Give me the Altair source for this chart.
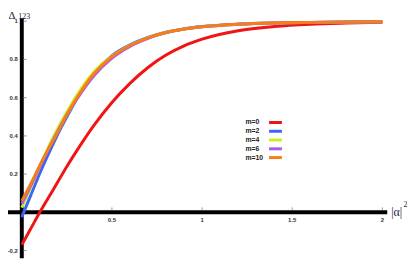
import altair as alt
import pandas as pd

# ---- data ----
x_vals = [0, 0.05, 0.1, 0.15, 0.2, 0.25, 0.3, 0.4, 0.5, 0.6, 0.7, 0.8, 0.9, 1.0, 1.2, 1.4, 1.6, 1.8, 2.0]
m0 = [-0.17, -0.085, 0.0, 0.08, 0.16, 0.24, 0.315, 0.455, 0.575, 0.675, 0.758, 0.823, 0.871, 0.906, 0.95, 0.972, 0.984, 0.99, 0.994]
m2 = [-0.025, 0.09, 0.205, 0.31, 0.41, 0.50, 0.585, 0.727, 0.82, 0.876, 0.915, 0.942, 0.96, 0.972, 0.985, 0.991, 0.994, 0.996, 0.997]
m4 = [0.025, 0.13, 0.24, 0.345, 0.44, 0.525, 0.605, 0.735, 0.817, 0.873, 0.913, 0.941, 0.959, 0.971, 0.984, 0.991, 0.994, 0.996, 0.997]
m6 = [0.045, 0.14, 0.24, 0.335, 0.425, 0.51, 0.585, 0.715, 0.807, 0.868, 0.91, 0.94, 0.959, 0.971, 0.984, 0.991, 0.994, 0.996, 0.997]
m10 = [0.06, 0.15, 0.245, 0.335, 0.42, 0.51, 0.59, 0.725, 0.815, 0.873, 0.913, 0.941, 0.959, 0.971, 0.984, 0.991, 0.994, 0.996, 0.997]

series_names = ["m=0", "m=2", "m=4", "m=6", "m=10"]
series_values = [m0, m2, m4, m6, m10]
series_colors = ["#f01414", "#3a66f5", "#c8f01e", "#a55cf0", "#f57d1a"]

x_ticks = [0.5, 1, 1.5, 2]
x_tick_labels = ["0.5", "1", "1.5", "2"]
y_ticks = [-0.2, 0.2, 0.4, 0.6, 0.8, 1]
y_tick_labels = ["-0.2", "0.2", "0.4", "0.6", "0.8", "1"]

# ---- scales ----
W, H = 405, 255
X_DOM = [-14 / 183, (W - 14) / 183]
Y_DOM = [-(H - 205.5) / 194, 205.5 / 194]
xs = alt.Scale(domain=X_DOM, nice=False, zero=False)
ys = alt.Scale(domain=Y_DOM, nice=False, zero=False)
cs = alt.Scale(domain=series_names, range=series_colors)

rows = []
for name, vals in zip(series_names, series_values):
    for xv, yv in zip(x_vals, vals):
        rows.append({"x": xv, "y": yv, "m": name})
df = pd.DataFrame(rows)

layers = []

# axis lines
layers.append(
    alt.Chart(pd.DataFrame({"x": [0.0], "y": [-0.24], "y2": [1.015]}))
    .mark_rule(color="black", strokeWidth=4)
    .encode(x=alt.X("x:Q", scale=xs, axis=None), y=alt.Y("y:Q", scale=ys, axis=None), y2="y2:Q")
)
layers.append(
    alt.Chart(pd.DataFrame({"x": [X_DOM[0]], "x2": [2.027], "y": [0.0]}))
    .mark_rule(color="black", strokeWidth=4)
    .encode(x=alt.X("x:Q", scale=xs, axis=None), x2="x2:Q", y=alt.Y("y:Q", scale=ys, axis=None))
)

# small ticks
xt = pd.DataFrame({"v": x_ticks, "lab": x_tick_labels})
yt = pd.DataFrame({"v": y_ticks, "lab": y_tick_labels})
layers.append(
    alt.Chart(xt).transform_calculate(a="0.011", b="0.026")
    .mark_rule(color="#999999", strokeWidth=1)
    .encode(x=alt.X("v:Q", scale=xs, axis=None), y=alt.Y("a:Q", scale=ys, axis=None), y2="b:Q")
)
layers.append(
    alt.Chart(yt).transform_calculate(a="0.011", b="0.027")
    .mark_rule(color="#999999", strokeWidth=1)
    .encode(y=alt.Y("v:Q", scale=ys, axis=None), x=alt.X("a:Q", scale=xs, axis=None), x2="b:Q")
)

# tick labels
layers.append(
    alt.Chart(xt).transform_calculate(yy="-0.04")
    .mark_text(font="Liberation Sans", fontSize=6, fontWeight="bold", color="#333333", baseline="middle", align="center")
    .encode(x=alt.X("v:Q", scale=xs, axis=None), y=alt.Y("yy:Q", scale=ys, axis=None), text="lab:N")
)
layers.append(
    alt.Chart(yt).transform_calculate(xx="-0.022")
    .mark_text(font="Liberation Sans", fontSize=6, fontWeight="bold", color="#333333", baseline="middle", align="right")
    .encode(y=alt.Y("v:Q", scale=ys, axis=None), x=alt.X("xx:Q", scale=xs, axis=None), text="lab:N")
)

# curves
for name in series_names:
    layers.append(
        alt.Chart(df[df["m"] == name])
        .mark_line(strokeWidth=3, interpolate="monotone")
        .encode(
            x=alt.X("x:Q", scale=xs, axis=None),
            y=alt.Y("y:Q", scale=ys, axis=None),
            color=alt.Color("m:N", scale=cs, legend=None),
        )
    )

# legend
leg = pd.DataFrame({"m": series_names, "i": list(range(len(series_names)))})
leg_base = alt.Chart(leg).transform_calculate(
    ly="0.4701 - 0.04588 * datum.i", tx="1.2404", sx="1.3716", sx2="1.4426"
)
layers.append(
    leg_base.mark_text(font="Liberation Sans", fontSize=7, fontWeight="bold", color="#222222", align="left", baseline="middle")
    .encode(x=alt.X("tx:Q", scale=xs, axis=None), y=alt.Y("ly:Q", scale=ys, axis=None), text="m:N")
)
layers.append(
    leg_base.mark_rule(strokeWidth=3)
    .encode(
        x=alt.X("sx:Q", scale=xs, axis=None), x2="sx2:Q",
        y=alt.Y("ly:Q", scale=ys, axis=None),
        color=alt.Color("m:N", scale=cs, legend=None),
    )
)

# axis titles
def label(text, x, y, size, align="left"):
    return (
        alt.Chart(pd.DataFrame({"t": [text]}))
        .mark_text(font="Liberation Serif", fontSize=size, color="#1a1a3a", align=align, baseline="alphabetic")
        .encode(x=alt.value(x), y=alt.value(y), text="t:N")
    )

layers.append(label("Δ", 0.5, 9, 11))
layers.append(label("123", 10.5, 9.5, 8))
layers.append(label("|α|", 389, 209, 12))
layers.append(label("2", 401.5, 200, 8))

chart = (
    alt.layer(*layers)
    .properties(width=W, height=H, autosize=alt.AutoSizeParams(type="none"), padding=0, background="white")
    .configure_view(stroke=None)
)

chart.save("out.html", embed_options={"renderer": "svg", "actions": False})
